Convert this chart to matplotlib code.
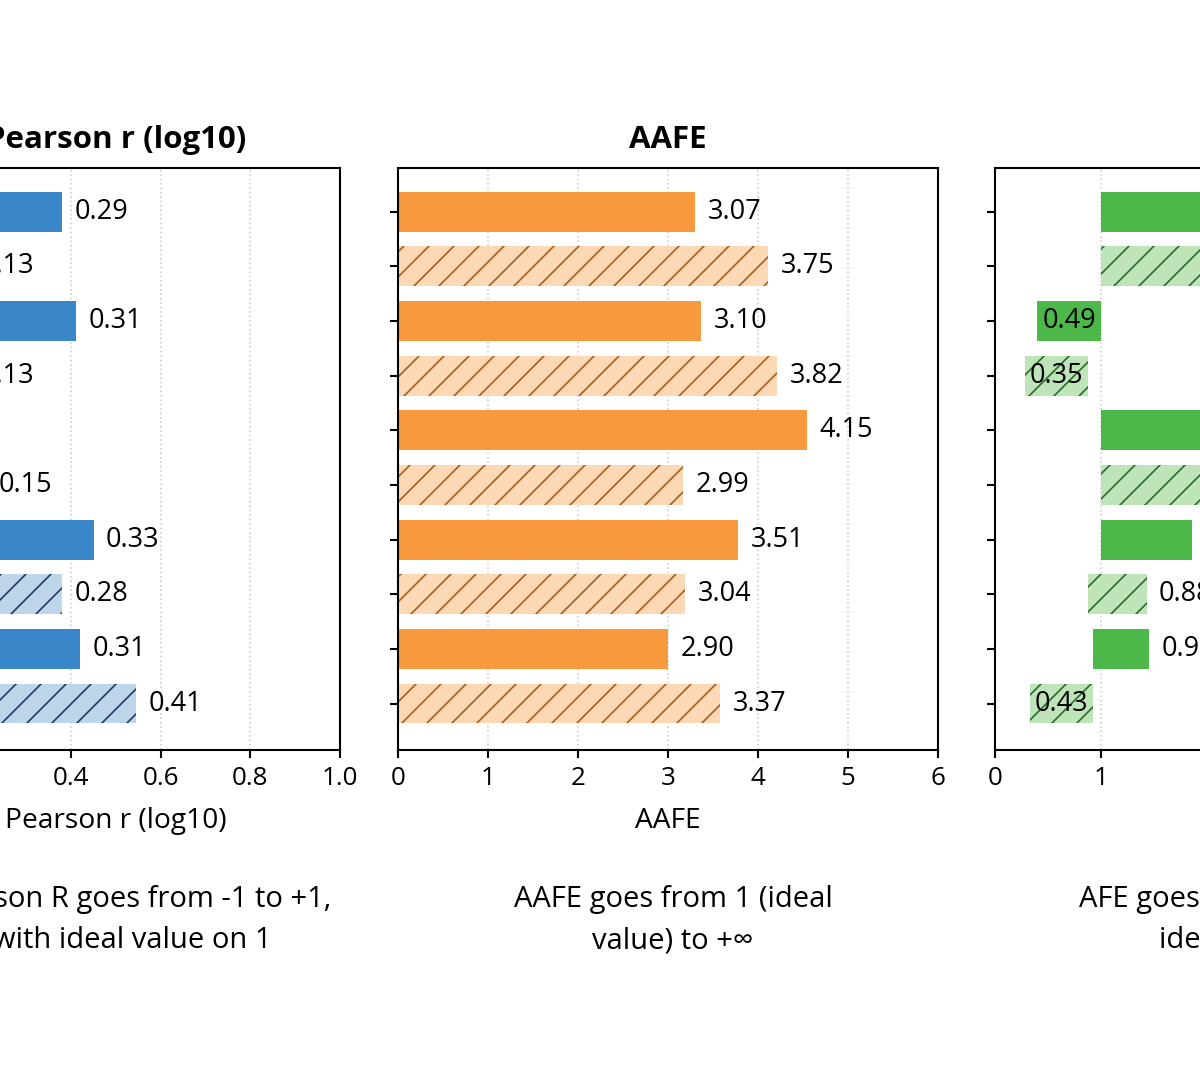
import numpy as np
import matplotlib.pyplot as plt

plt.rcParams["font.family"] = ["Open Sans", "DejaVu Sans"]
plt.rcParams["hatch.linewidth"] = 0.8

# =========================
# DATA (10 runs, top to bottom: solid / hatched alternate)
# =========================
rows = np.arange(10)
hatched = rows % 2 == 1

# Pearson r (log10): bar end as drawn, and the number printed beside it
pearson_len = [0.38, 0.17, 0.41, 0.17, 0.05, 0.21, 0.45, 0.38, 0.42, 0.545]
pearson_lbl = ["0.29", "0.13", "0.31", "0.13", "0.04", "0.15", "0.33", "0.28", "0.31", "0.41"]

# AAFE
aafe_len = [3.30, 4.11, 3.37, 4.21, 4.54, 3.17, 3.78, 3.19, 3.00, 3.58]
aafe_lbl = ["3.07", "3.75", "3.10", "3.82", "4.15", "2.99", "3.51", "3.04", "2.90", "3.37"]

# AFE: bars run from lo to hi around the ideal value 1
afe_lo = [1.0, 1.0, 0.40, 0.28, 1.0, 1.0, 1.0, 0.88, 0.92, 0.33]
afe_hi = [2.45, 2.30, 1.0, 0.88, 2.60, 2.20, 1.86, 1.43, 1.45, 0.92]
afe_lbl = ["2.45", "2.30", "0.49", "0.35", "2.60", "2.20", "1.86", "0.88", "0.96", "0.43"]

captions = [
    "Pearson R goes from -1 to +1,\nwith ideal value on 1",
    "AAFE goes from 1 (ideal\nvalue) to +\u221e",
    "AFE goes from 0 to +\u221e, with\nideal value on 1",
]

# colours: solid, hatched fill, hatch lines
BLUE = ("#3a86c8", "#bed5ea", "#1c3d66")
ORANGE = ("#f8993d", "#fdd8b4", "#a85e1e")
GREEN = ("#4cb84a", "#bfe4ba", "#2b6b2b")

W, H = 1200, 1080
fig = plt.figure(figsize=(8, 7.2), dpi=150)
bottom, height = 1 - 750 / H, 582 / H

panels = [
    # rect left/width in px, data, colours, xlim, ticks, title
    dict(x0=-108, w=448, lo=[0] * 10, hi=pearson_len, lbl=pearson_lbl, col=BLUE,
         xlim=(0, 1.0), ticks=[0, 0.2, 0.4, 0.6, 0.8, 1.0], title="Pearson r (log10)",
         fmt="{:.1f}"),
    dict(x0=398, w=540, lo=[0] * 10, hi=aafe_len, lbl=aafe_lbl, col=ORANGE,
         xlim=(0, 6), ticks=list(range(7)), title="AAFE", fmt="{:.0f}"),
    dict(x0=995, w=530, lo=afe_lo, hi=afe_hi, lbl=afe_lbl, col=GREEN,
         xlim=(0, 5), ticks=list(range(6)), title="AFE", fmt="{:.0f}"),
]
cap_x = [132, 673, 1265]

for p, cx, cap in zip(panels, cap_x, captions):
    ax = fig.add_axes([p["x0"] / W, bottom, p["w"] / W, height])
    solid, light, hcol = p["col"]
    lo = np.array(p["lo"], dtype=float)
    hi = np.array(p["hi"], dtype=float)

    for r in rows:
        if hatched[r]:
            ax.barh(r, hi[r] - lo[r], left=lo[r], height=0.73, color=light,
                    edgecolor=hcol, hatch="//", linewidth=0, zorder=2)
        else:
            ax.barh(r, hi[r] - lo[r], left=lo[r], height=0.73, color=solid,
                    linewidth=0, zorder=2)

        # labels: inside the bar when the whole bar sits below 1 (AFE), else to the right
        if p["title"] == "AFE" and hi[r] <= 1.0:
            ax.text((lo[r] + hi[r]) / 2, r, p["lbl"][r], ha="center", va="center",
                    fontsize=13, zorder=3)
        else:
            ax.annotate(p["lbl"][r], (hi[r], r), xytext=(6, 0), textcoords="offset points",
                        ha="left", va="center", fontsize=13, annotation_clip=False)

    ax.set_xlim(*p["xlim"])
    ax.set_ylim(9.85, -0.8)
    ax.set_xticks(p["ticks"])
    ax.set_xticklabels([p["fmt"].format(t) for t in p["ticks"]])
    ax.set_yticks(rows)
    ax.set_yticklabels([])
    ax.tick_params(axis="both", labelsize=12.5, length=4, width=1.0)
    ax.grid(axis="x", linestyle=":", color="#cfcfcf", linewidth=0.8)
    ax.set_axisbelow(True)
    for s in ax.spines.values():
        s.set_linewidth(1.0)
    ax.set_title(p["title"], fontsize=15, fontweight="bold", pad=9.5)
    ax.set_xlabel(p["title"], fontsize=13.5, labelpad=8)

    fig.text(cx / W, 1 - 920 / H, cap, ha="center", va="center", fontsize=14,
             linespacing=1.55, multialignment="center")

fig.savefig("out.png", dpi=150)
plt.close()
